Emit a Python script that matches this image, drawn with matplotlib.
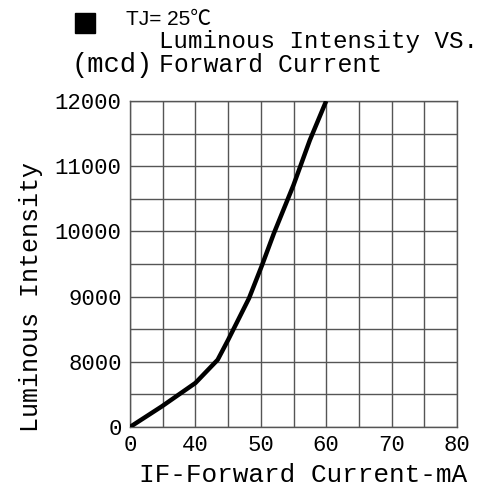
import numpy as np
import matplotlib.pyplot as plt
from matplotlib.patches import Rectangle

# forward current (mA) vs luminous intensity (mcd)
current = [0, 19.4, 40, 43.4, 45, 48.2, 50.2, 52, 55, 57.5, 60]
intensity = [0, 2520, 5400, 8030, 8335, 8975, 9485, 9970, 10710, 11400, 12000]

x_ticks = [0, 40, 50, 60, 70, 80]
y_ticks = [0, 8000, 9000, 10000, 11000, 12000]


# the axes are broken: first two grid cells hold 0-40 mA / 0-8000 mcd
def x_fwd(x):
    x = np.asarray(x, dtype=float)
    return np.where(x <= 40, x / 20.0, 2 + (x - 40) / 5.0)


def x_inv(p):
    p = np.asarray(p, dtype=float)
    return np.where(p <= 2, p * 20.0, 40 + (p - 2) * 5.0)


def y_fwd(y):
    y = np.asarray(y, dtype=float)
    return np.where(y <= 8000, y / 4000.0, 2 + (y - 8000) / 500.0)


def y_inv(p):
    p = np.asarray(p, dtype=float)
    return np.where(p <= 2, p * 4000.0, 8000 + (p - 2) * 500.0)


mono = "Liberation Mono"
grid_col = "#555555"

fig = plt.figure(figsize=(4.81, 4.98), dpi=100)
ax = fig.add_axes([130 / 481, 71 / 498, 327 / 481, 326 / 498])

ax.set_xscale("function", functions=(x_fwd, x_inv))
ax.set_yscale("function", functions=(y_fwd, y_inv))
ax.set_xlim(0, 80)
ax.set_ylim(0, 12000)

# grid every half label step
x_grid = [0, 20, 40, 45, 50, 55, 60, 65, 70, 75, 80]
y_grid = [0, 4000, 8000, 8500, 9000, 9500, 10000, 10500, 11000, 11500, 12000]
for g in x_grid:
    ax.axvline(g, color=grid_col, lw=1.0, zorder=1)
for g in y_grid:
    ax.axhline(g, color=grid_col, lw=1.0, zorder=1)

ax.plot(current, intensity, color="black", lw=3.2, solid_capstyle="butt", zorder=3)

ax.set_xticks(x_ticks)
ax.set_xticklabels([str(v) for v in x_ticks], fontfamily=mono, fontsize=16)
ax.set_yticks(y_ticks)
ax.set_yticklabels([str(v) for v in y_ticks], fontfamily=mono, fontsize=16)
ax.tick_params(axis="x", length=0, pad=6)
ax.tick_params(axis="y", length=0, pad=6)
ax.minorticks_off()
for s in ax.spines.values():
    s.set_color(grid_col)
    s.set_linewidth(1.0)

fig.text(139 / 481, 16 / 498, "IF-Forward Current-mA", fontfamily=mono,
         fontsize=18.8, ha="left", va="baseline")
fig.text(38 / 481, 201 / 498, "Luminous Intensity", fontfamily=mono,
         fontsize=18, ha="center", va="baseline", rotation=90,
         rotation_mode="anchor")

fig.text(159 / 481, 450 / 498, "Luminous Intensity VS.", fontfamily=mono,
         fontsize=17.4, ha="left", va="baseline")
fig.text(159 / 481, 426 / 498, "Forward Current", fontfamily=mono,
         fontsize=17.8, ha="left", va="baseline")
fig.text(72 / 481, 426 / 498, "(mcd)", fontfamily=mono,
         fontsize=19.5, ha="left", va="baseline")

fig.patches.append(Rectangle((75 / 481, 465 / 498), 20 / 481, 20 / 498,
                             transform=fig.transFigure, color="black"))
fig.text(126 / 481, 473 / 498, "TJ= 25℃",
         fontfamily=["Liberation Sans", "Noto Sans CJK SC", "DejaVu Sans"],
         fontsize=15, ha="left", va="baseline")

fig.savefig("out.png", dpi=100)
